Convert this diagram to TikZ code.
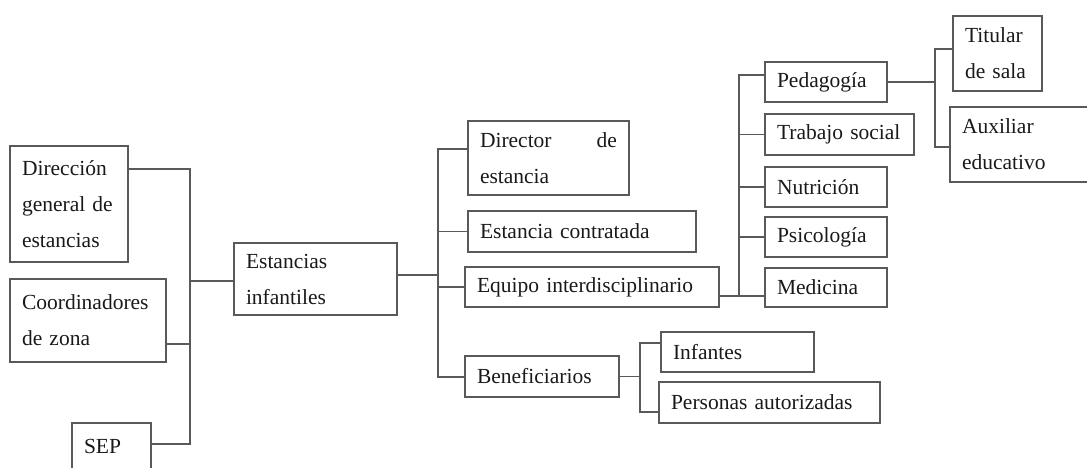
\documentclass[tikz,border=0pt]{standalone}
\usepackage{fontspec}
\setmainfont{Liberation Serif}
\begin{document}
\begin{tikzpicture}[x=1pt,y=-1pt,
    caja/.style={draw=black!65, line width=1.4pt, text=black!90, align=left,
        inner xsep=12pt, inner ysep=2pt,
        font=\fontsize{21.5}{36}\selectfont},
    linea/.style={draw=black!65, line width=1.4pt}]
        \clip (0,0) rectangle (1087,468);

        \node[caja, minimum width=118pt, minimum height=116pt, text width=94pt] (dir) at (69, 204) { Dirección\\general de\\estancias };
        \node[caja, minimum width=156pt, minimum height=83pt, text width=132pt] (coord) at (88, 320.5) { Coordinadores\\de zona };
        \node[caja, minimum width=79pt, minimum height=46pt, text width=55pt] (sep) at (111.5, 446) { SEP };

        \node[caja, minimum width=163pt, minimum height=72pt, text width=139pt] (est) at (315.5, 279) { Estancias\\infantiles };

        \node[caja, minimum width=161pt, minimum height=74pt, text width=137pt] (dire) at (548.5, 158) { Director\hfill de\\estancia };
        \node[caja, minimum width=228pt, minimum height=41pt, text width=204pt] (cont) at (582, 231.5) { Estancia contratada };
        \node[caja, minimum width=254pt, minimum height=40pt, text width=230pt] (equi) at (592, 287) { Equipo interdisciplinario };
        \node[caja, minimum width=154pt, minimum height=41pt, text width=130pt] (bene) at (542, 376.5) { Beneficiarios };

        \node[caja, minimum width=153pt, minimum height=40pt, text width=129pt] (inf) at (737.5, 352) { Infantes };
        \node[caja, minimum width=221pt, minimum height=41pt, text width=197pt] (pers) at (769.5, 402.5) { Personas autorizadas };

        \node[caja, minimum width=122pt, minimum height=40pt, text width=98pt] (ped) at (826, 82) { Pedagogía };
        \node[caja, minimum width=149pt, minimum height=41pt, text width=125pt] (trab) at (839.5, 134.5) { Trabajo social };
        \node[caja, minimum width=122pt, minimum height=40pt, text width=98pt] (nut) at (826, 187) { Nutrición };
        \node[caja, minimum width=122pt, minimum height=40pt, text width=98pt] (psi) at (826, 237) { Psicología };
        \node[caja, minimum width=122pt, minimum height=39pt, text width=98pt] (med) at (826, 287.5) { Medicina };

        \node[caja, minimum width=89pt, minimum height=75pt, text width=65pt] (tit) at (997.5, 53.5) { Titular\\de sala };
        \node[caja, minimum width=142pt, minimum height=75pt, text width=118pt] (aux) at (1021, 144.5) { Auxiliar\\educativo };

        \coordinate (b1) at (190, 169);
        \coordinate (b1m) at (190, 281);
        \coordinate (b1c) at (190, 344);
        \coordinate (b1s) at (190, 444);
        \draw[linea] (dir.east |- b1) -- (b1) -- (b1s) -- (sep.east |- b1s);
        \draw[linea] (coord.east |- b1c) -- (b1c);
        \draw[linea] (b1m) -- (est.west |- b1m);

        \coordinate (b2) at (438, 275);
        \coordinate (b2a) at (438, 149);
        \coordinate (b2d) at (438, 377);
        \draw[linea] (est.east |- b2) -- (b2);
        \draw[linea] (dire.west |- b2a) -- (b2a) -- (b2d) -- (bene.west |- b2d);
        \draw[linea] (b2a |- cont.west) -- (cont.west);
        \draw[linea] (b2a |- equi.west) -- (equi.west);

        \coordinate (b3a) at (640, 343);
        \coordinate (b3b) at (640, 412);
        \draw[linea] (bene.east) -- (bene.east -| b3a);
        \draw[linea] (inf.west |- b3a) -- (b3a) -- (b3b) -- (pers.west |- b3b);

        \coordinate (b4a) at (739, 75);
        \coordinate (b4b) at (739, 296);
        \draw[linea] (equi.east |- b4b) -- (b4b) -- (b4a) -- (ped.west |- b4a);
        \draw[linea] (b4a |- trab.west) -- (trab.west);
        \draw[linea] (b4a |- nut.west) -- (nut.west);
        \draw[linea] (b4a |- psi.west) -- (psi.west);
        \draw[linea] (med.west |- b4b) -- (b4b);

        \coordinate (b5a) at (935, 49);
        \coordinate (b5b) at (935, 147);
        \draw[linea] (ped.east) -- (ped.east -| b5a);
        \draw[linea] (tit.west |- b5a) -- (b5a) -- (b5b) -- (aux.west |- b5b);

    \end{tikzpicture}
\end{document}
